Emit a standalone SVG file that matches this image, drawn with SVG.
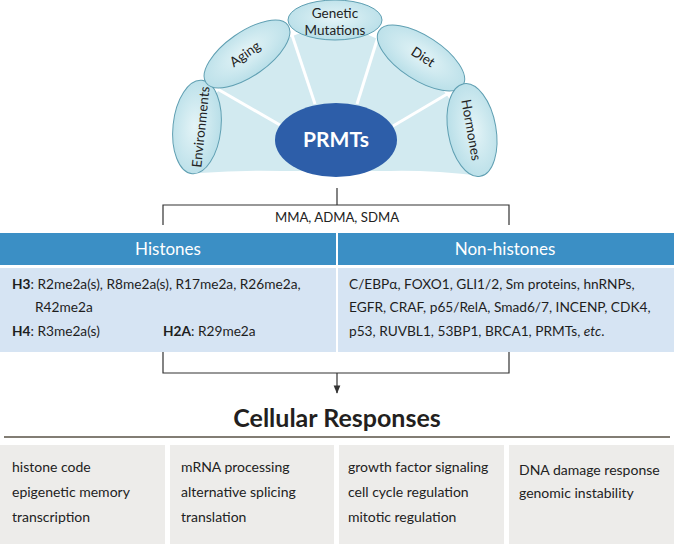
<svg xmlns="http://www.w3.org/2000/svg" width="674" height="544" viewBox="0 0 674 544">
<defs>
<radialGradient id="eg" cx="50%" cy="45%" r="60%">
<stop offset="0%" stop-color="#e4f4f7"/>
<stop offset="100%" stop-color="#b5dde7"/>
</radialGradient>
<marker id="arr" viewBox="0 0 10 10" refX="9" refY="5" markerWidth="7" markerHeight="7" orient="auto">
<path d="M0,1 L10,5 L0,9 Z" fill="#333"/>
</marker>
</defs>
<style>
.f{fill:url(#eg);stroke:#5f9fb2;stroke-width:1}
.et{font-family:Lato,"Open Sans",sans-serif;font-size:13.5px;fill:#222;text-anchor:middle}
.wl{stroke:#ffffff;stroke-width:3;fill:none}
.cn{stroke:#333;stroke-width:1.2;fill:none}
.hd{fill:#3b8fc5}
.bd{fill:#d6e4f3}
.ht{font-family:Lato,"Open Sans",sans-serif;font-size:17px;fill:#fff;text-anchor:middle}
.tx{font-family:Lato,"Open Sans",sans-serif;font-size:13.7px;fill:#1e1e1e}
.bx{fill:#edecea}
.rt{font-family:Lato,"Open Sans",sans-serif;font-size:14px;fill:#222}
</style>
<g id="fan">
<path d="M200,173 L190,128 L247,53 L335,20 L420,58 L472,130 L483,176 Q430,170 390,171 L282,171 Q240,170 200,173 Z" fill="#d2eaf0"/>
<line class="wl" x1="214" y1="87" x2="280" y2="125"/>
<line class="wl" x1="291" y1="32" x2="315" y2="104"/>
<line class="wl" x1="378" y1="37" x2="357" y2="104"/>
<line class="wl" x1="454" y1="90" x2="393" y2="126"/>
</g>
<g id="environments">
<ellipse class="f" cx="197" cy="127" rx="47" ry="24" transform="rotate(-84 197 127)"/>
<text class="et" transform="translate(201 127) rotate(-84)" y="4.5">Environments</text>
</g>
<g id="aging">
<ellipse class="f" cx="247" cy="54" rx="50" ry="22" transform="rotate(-35 247 54)"/>
<text class="et" transform="translate(245 54) rotate(-35)" y="4.5">Aging</text>
</g>
<g id="genetic">
<ellipse class="f" cx="335" cy="20" rx="47" ry="20"/>
<text class="et" x="335" y="18">Genetic</text>
<text class="et" x="335" y="35">Mutations</text>
</g>
<g id="diet">
<ellipse class="f" cx="421" cy="58" rx="50" ry="22" transform="rotate(33 421 58)"/>
<text class="et" transform="translate(423 57) rotate(33)" y="4.5">Diet</text>
</g>
<g id="hormones">
<ellipse class="f" cx="472" cy="130" rx="47" ry="24" transform="rotate(80 472 130)"/>
<text class="et" transform="translate(471 130) rotate(80)" y="4.5">Hormones</text>
</g>
<g id="prmts">
<ellipse cx="336" cy="140" rx="61" ry="37" fill="#2d5ea9"/>
<text x="336" y="147" font-family="Lato,'Open Sans',sans-serif" font-size="21" font-weight="bold" fill="#fff" text-anchor="middle">PRMTs</text>
</g>
<g id="connectors">
<path class="cn" d="M337,188 V205 M163,225 V205 H509 V225"/>
<path class="cn" d="M163,352 V373 H509 V352"/>
<line class="cn" x1="337" y1="373" x2="337" y2="393" marker-end="url(#arr)"/>
</g>
<text x="337" y="222" font-family="Lato,'Open Sans',sans-serif" font-size="13.2" fill="#222" text-anchor="middle">MMA, ADMA, SDMA</text>
<g id="histones">
<rect class="hd" x="0" y="233" width="336" height="32"/>
<text class="ht" x="168" y="255">Histones</text>
<rect class="bd" x="0" y="268" width="336" height="84"/>
<text class="tx" x="12" y="289"><tspan font-weight="bold">H3</tspan>: R2me2a(s), R8me2a(s), R17me2a, R26me2a,</text>
<text class="tx" x="35" y="312">R42me2a</text>
<text class="tx" x="12" y="336"><tspan font-weight="bold">H4</tspan>: R3me2a(s)</text>
<text class="tx" x="163" y="336"><tspan font-weight="bold">H2A</tspan>: R29me2a</text>
</g>
<g id="nonhistones">
<rect class="hd" x="338" y="233" width="336" height="32"/>
<text class="ht" x="505" y="255">Non-histones</text>
<rect class="bd" x="338" y="268" width="336" height="84"/>
<text class="tx" x="349" y="289">C/EBPα, FOXO1, GLI1/2, Sm proteins, hnRNPs,</text>
<text class="tx" x="349" y="312">EGFR, CRAF, p65/RelA, Smad6/7, INCENP, CDK4,</text>
<text class="tx" x="349" y="336">p53, RUVBL1, 53BP1, BRCA1, PRMTs, <tspan font-style="italic">etc</tspan>.</text>
</g>
<g id="cellular">
<text x="337" y="427" font-family="Lato,'Open Sans',sans-serif" font-size="25" font-weight="bold" fill="#231f20" text-anchor="middle">Cellular Responses</text>
<line x1="4" y1="437" x2="670" y2="437" stroke="#827d74" stroke-width="2.2"/>
</g>
<g id="box1">
<rect class="bx" x="0" y="445" width="165" height="99"/>
<text class="rt" x="12" y="472">histone code</text>
<text class="rt" x="12" y="497">epigenetic memory</text>
<text class="rt" x="12" y="522">transcription</text>
</g>
<g id="box2">
<rect class="bx" x="170" y="445" width="164" height="99"/>
<text class="rt" x="181" y="472">mRNA processing</text>
<text class="rt" x="181" y="497">alternative splicing</text>
<text class="rt" x="181" y="522">translation</text>
</g>
<g id="box3">
<rect class="bx" x="339" y="445" width="165" height="99"/>
<text class="rt" x="348" y="472">growth factor signaling</text>
<text class="rt" x="348" y="497">cell cycle regulation</text>
<text class="rt" x="348" y="522">mitotic regulation</text>
</g>
<g id="box4">
<rect class="bx" x="509" y="445" width="165" height="99"/>
<text class="rt" x="519" y="475">DNA damage response</text>
<text class="rt" x="519" y="498">genomic instability</text>
</g>
</svg>
